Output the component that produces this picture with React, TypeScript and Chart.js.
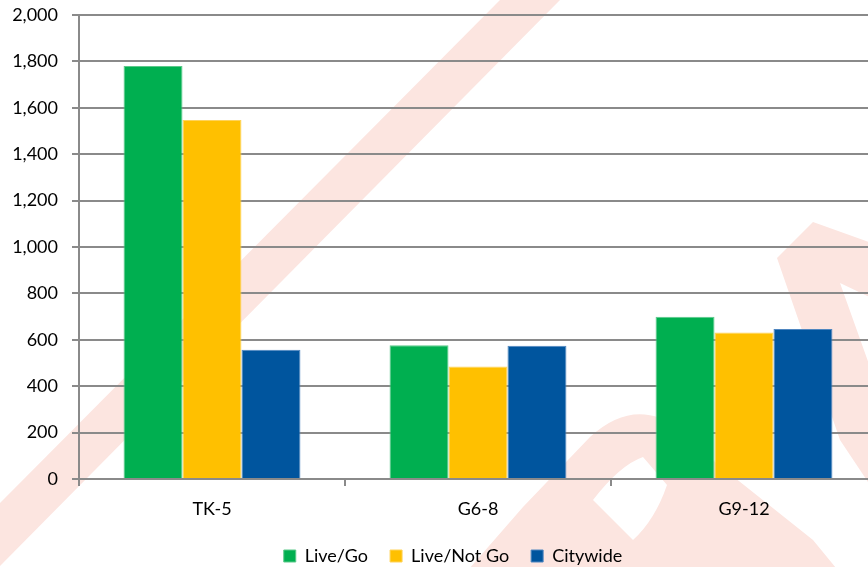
import React, { useEffect, useRef } from "react";
import { Chart, registerables } from "chart.js";

Chart.register(...registerables);

const categories = ["TK-5", "G6-8", "G9-12"];
const seriesNames = ["Live/Go", "Live/Not Go", "Citywide"];
const liveGo = [1780, 577, 699];
const liveNotGo = [1547, 485, 631];
const citywide = [557, 574, 647];
const yMin = 0;
const yMax = 2000;
const yStep = 200;

const FONT = "Lato";
const GRID = "#8a8a8a";
const PINK = "rgb(252,229,224)";

const watermark = {
  id: "watermark",
  beforeDraw(chart: any) {
    const ctx = chart.ctx;
    ctx.save();
    ctx.fillStyle = PINK;
    // long diagonal stroke
    ctx.beginPath();
    ctx.moveTo(500, 0);
    ctx.lineTo(560, 0);
    ctx.lineTo(0, 566);
    ctx.lineTo(0, 503);
    ctx.closePath();
    ctx.fill();
    // right letter
    ctx.beginPath();
    ctx.moveTo(777, 258);
    ctx.lineTo(813, 222);
    ctx.lineTo(880, 246);
    ctx.lineTo(880, 302);
    ctx.lineTo(840, 283);
    ctx.lineTo(880, 395);
    ctx.lineTo(880, 500);
    ctx.lineTo(840, 440);
    ctx.closePath();
    ctx.fill();
    // bowl with counter
    ctx.beginPath();
    ctx.moveTo(455, 585);
    ctx.lineTo(523, 507);
    ctx.lineTo(590, 437);
    ctx.quadraticCurveTo(625, 405, 660, 418);
    ctx.lineTo(700, 450);
    ctx.lineTo(813, 540);
    ctx.lineTo(850, 585);
    ctx.closePath();
    ctx.moveTo(593, 500);
    ctx.quadraticCurveTo(620, 465, 643, 457);
    ctx.lineTo(667, 485);
    ctx.quadraticCurveTo(655, 520, 633, 540);
    ctx.closePath();
    ctx.fill("evenodd");
    ctx.restore();
  },
};

const legendShift = {
  id: "legendShift",
  afterLayout(chart: any) {
    if (chart.legend) chart.legend.left += 29;
  },
};

export default function App() {
  const ref = useRef<HTMLCanvasElement | null>(null);
  useEffect(() => {
    if (!ref.current) return;
    const font = { family: FONT, size: 18 };
    const chart = new Chart(ref.current, {
      type: "bar",
      data: {
        labels: categories,
        datasets: [
          {
            label: seriesNames[0],
            data: liveGo,
            backgroundColor: "#00AF50",
            borderColor: "#5cc98a",
            borderWidth: 1,
          },
          {
            label: seriesNames[1],
            data: liveNotGo,
            backgroundColor: "#FFC000",
            borderColor: "#ffd35a",
            borderWidth: 1,
          },
          {
            label: seriesNames[2],
            data: citywide,
            backgroundColor: "#00559E",
            borderColor: "#4f86c0",
            borderWidth: 1,
          },
        ].map((d) => ({ ...d, barPercentage: 1, categoryPercentage: 0.665 })),
      },
      options: {
        animation: false,
        responsive: false,
        maintainAspectRatio: false,
        layout: { padding: { left: 0, right: 3, top: 15, bottom: 0 } },
        plugins: {
          legend: {
            position: "bottom",
            labels: {
              boxWidth: 12,
              boxHeight: 12,
              padding: 22,
              color: "#000",
              font,
            },
          },
          tooltip: { enabled: false },
        },
        scales: {
          x: {
            grid: {
              drawOnChartArea: false,
              tickLength: 7,
              color: GRID,
              lineWidth: 2,
              offset: true,
            },
            border: { color: GRID, width: 2 },
            ticks: { color: "#000", font, padding: 12 },
            afterFit: (s: any) => {
              s.height = 46;
            },
          },
          y: {
            min: yMin,
            max: yMax,
            ticks: {
              stepSize: yStep,
              color: "#000",
              font,
              padding: 14,
              callback: (v: any) => Number(v).toLocaleString("en-US"),
            },
            grid: { color: GRID, lineWidth: 2, tickLength: 7 },
            border: { color: GRID, width: 2 },
            afterFit: (s: any) => {
              s.width = 79;
              s.paddingTop = 0;
              s.paddingBottom = 0;
            },
          },
        },
      },
      plugins: [watermark, legendShift],
    });
    return () => chart.destroy();
  }, []);
  return (
    <div
      style={{
        position: "absolute",
        left: 0,
        top: 0,
        width: 868,
        height: 567,
        overflow: "hidden",
        background: "#fff",
      }}
    >
      <canvas ref={ref} width={880} height={575} style={{ display: "block" }} />
    </div>
  );
}
